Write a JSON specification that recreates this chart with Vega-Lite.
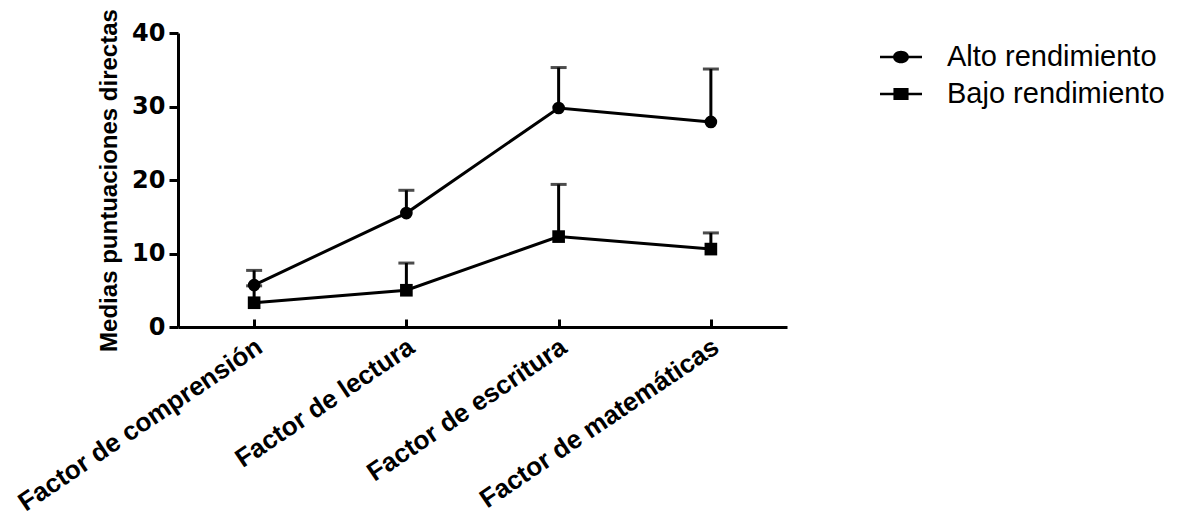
{
  "$schema": "https://vega.github.io/schema/vega-lite/v6.json",
  "width": 609,
  "height": 294,
  "autosize": "none",
  "padding": {"left": 178, "top": 33, "right": 414, "bottom": 194},
  "background": "white",
  "config": {"view": {"stroke": null}, "font": "Liberation Sans"},
  "data": {
    "values": [
      {"factor": "Factor de comprensión", "grupo": "Alto rendimiento", "media": 5.7, "sup": 7.7},
      {"factor": "Factor de lectura", "grupo": "Alto rendimiento", "media": 15.5, "sup": 18.6},
      {"factor": "Factor de escritura", "grupo": "Alto rendimiento", "media": 29.8, "sup": 35.3},
      {"factor": "Factor de matemáticas", "grupo": "Alto rendimiento", "media": 27.9, "sup": 35.1},
      {"factor": "Factor de comprensión", "grupo": "Bajo rendimiento", "media": 3.3, "sup": 5.6},
      {"factor": "Factor de lectura", "grupo": "Bajo rendimiento", "media": 5.0, "sup": 8.7},
      {"factor": "Factor de escritura", "grupo": "Bajo rendimiento", "media": 12.3, "sup": 19.4},
      {"factor": "Factor de matemáticas", "grupo": "Bajo rendimiento", "media": 10.6, "sup": 12.8}
    ]
  },
  "encoding": {
    "x": {
      "field": "factor",
      "type": "nominal",
      "sort": ["Factor de comprensión", "Factor de lectura", "Factor de escritura", "Factor de matemáticas"],
      "scale": {"type": "point", "padding": 0.5},
      "axis": {
        "title": null,
        "labelAngle": -34,
        "labelAlign": "right",
        "labelBaseline": "middle",
        "labelFontSize": 26,
        "labelFontWeight": "bold",
        "labelColor": "black",
        "labelPadding": 25,
        "labelOffset": 5,
        "labelLimit": 500,
        "domainColor": "black",
        "domainWidth": 3,
        "tickColor": "black",
        "tickWidth": 3,
        "tickSize": -8
      }
    }
  },
  "layer": [
    {
      "mark": {"type": "rule", "color": "black", "strokeWidth": 3},
      "encoding": {
        "y": {"field": "media", "type": "quantitative"},
        "y2": {"field": "sup"}
      }
    },
    {
      "mark": {"type": "tick", "color": "black", "thickness": 3, "size": 16, "orient": "horizontal"},
      "encoding": {
        "y": {"field": "sup", "type": "quantitative"}
      }
    },
    {
      "mark": {"type": "line", "color": "black", "strokeWidth": 3},
      "encoding": {
        "y": {"field": "media", "type": "quantitative"},
        "detail": {"field": "grupo"}
      }
    },
    {
      "transform": [{"filter": "datum.grupo === 'Alto rendimiento'"}],
      "mark": {"type": "point", "filled": true, "color": "black", "size": 160, "opacity": 1, "shape": "circle"},
      "encoding": {
        "y": {"field": "media", "type": "quantitative"}
      }
    },
    {
      "transform": [{"filter": "datum.grupo === 'Bajo rendimiento'"}],
      "mark": {"type": "point", "filled": true, "color": "black", "size": 160, "opacity": 1, "shape": "square"},
      "encoding": {
        "y": {"field": "media", "type": "quantitative"}
      }
    },
    {
      "mark": {"type": "point", "filled": true, "color": "black", "size": 1764, "opacity": 0},
      "encoding": {
        "y": {
          "field": "media",
          "type": "quantitative",
          "scale": {"domain": [0, 40], "nice": false},
          "axis": {
            "title": "Medias puntuaciones directas",
            "titleFont": "Liberation Sans",
            "titleFontSize": 24,
            "titleFontWeight": "bold",
            "titleColor": "black",
            "titlePadding": 10,
            "values": [0, 10, 20, 30, 40],
            "grid": false,
            "labelFontSize": 24,
            "labelFont": "DejaVu Sans",
            "labelFontWeight": "bold",
            "labelColor": "black",
            "labelPadding": 4,
            "domainColor": "black",
            "domainWidth": 3,
            "tickColor": "black",
            "tickWidth": 3,
            "tickSize": 9
          }
        },
        "shape": {
          "field": "grupo",
          "type": "nominal",
          "scale": {
            "domain": ["Alto rendimiento", "Bajo rendimiento"],
            "range": [
              "M-1,-0.065H-0.3V0.065H-1Z M0.3,-0.065H1V0.065H0.3Z M0.38,0A0.38,0.3 0 1,1 -0.38,0A0.38,0.3 0 1,1 0.38,0Z",
              "M-1,-0.065H-0.36V0.065H-1Z M0.36,-0.065H1V0.065H0.36Z M-0.36,-0.28H0.36V0.28H-0.36Z"
            ]
          },
          "legend": {
            "title": null,
            "orient": "none",
            "legendX": 702,
            "legendY": 3,
            "padding": 0,
            "labelFontSize": 29,
            "labelColor": "black",
            "labelOffset": 25,
            "labelLimit": 500,
            "rowPadding": 1,
            "symbolSize": 1764,
            "symbolStrokeWidth": 0,
            "symbolFillColor": "black",
            "symbolOpacity": 1,
            "encode": {
              "symbols": {
                "update": {
                  "opacity": {"value": 1},
                  "fill": {"value": "black"}
                }
              }
            }
          }
        }
      }
    }
  ]
}
